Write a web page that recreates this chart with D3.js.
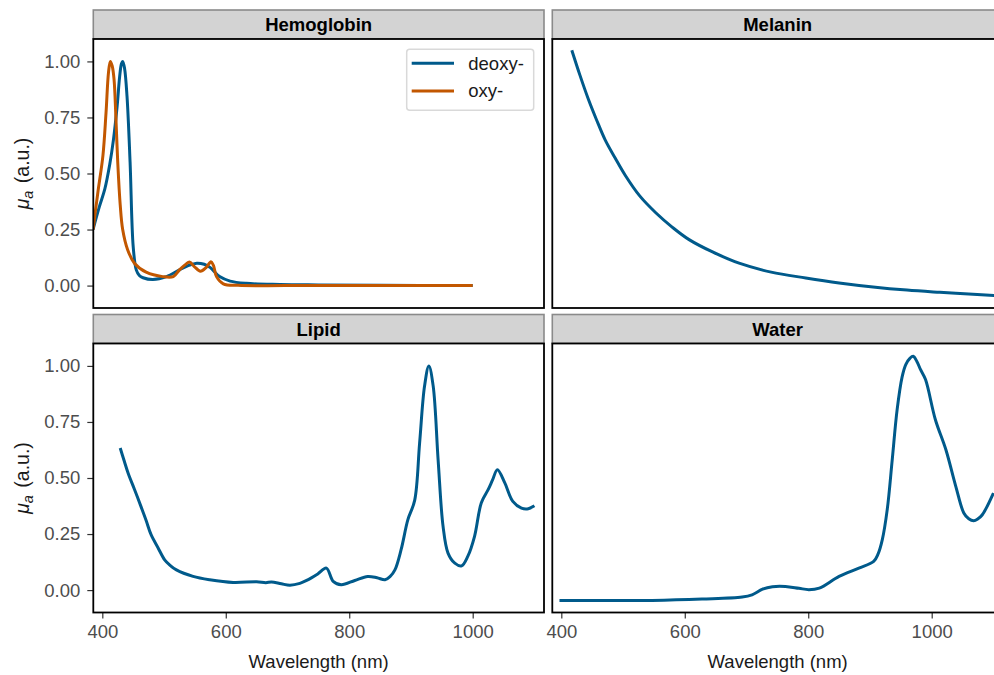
<!DOCTYPE html>
<html>
<head>
<meta charset="UTF-8">
<title>Absorption spectra</title>
<script src="https://d3js.org/d3.v7.min.js"></script>
<style>
  body { margin:0; background:#fff; }
  text { font-family: "Liberation Sans", Arial, Helvetica, sans-serif; }
</style>
</head>
<body>
<svg id="chart"></svg>
<script>
// spectra, [wavelength nm, mu_a normalised]
const deoxyHb = [[385,0.25],[395,0.35],[404,0.43],[412,0.54],[418,0.65],[424,0.80],[428,0.93],[431,0.99],[433,1.0],[436,0.97],[440,0.845],[445,0.55],[450,0.175],[455,0.07],[460,0.045],[466,0.035],[482,0.027],[504,0.04],[525,0.07],[540,0.09],[553,0.10],[565,0.095],[575,0.08],[590,0.04],[607,0.02],[633,0.01],[688,0.005],[750,0.003],[850,0.001],[1000,0.0]];
const oxyHb = [[385,0.25],[393,0.42],[401,0.58],[406,0.77],[410,0.95],[413,1.0],[416,0.98],[419,0.92],[422,0.75],[425,0.55],[429,0.36],[433,0.25],[441,0.16],[452,0.10],[471,0.06],[498,0.04],[515,0.04],[525,0.07],[533,0.09],[541,0.105],[549,0.085],[559,0.064],[568,0.08],[576,0.106],[580,0.09],[585,0.04],[596,0.008],[620,0.001],[700,0],[1000,0]];
const melanin = [[417,1.05],[430,0.94],[444,0.83],[457,0.74],[471,0.65],[487,0.57],[504,0.49],[527,0.40],[553,0.325],[580,0.26],[607,0.205],[645,0.15],[688,0.10],[740,0.06],[796,0.034],[850,0.012],[905,-0.006],[960,-0.02],[1013,-0.03],[1060,-0.038],[1110,-0.046]];
const lipid = [[429,0.634],[435,0.58],[442,0.52],[452,0.45],[463,0.37],[471,0.31],[479,0.247],[490,0.19],[501,0.135],[510,0.11],[520,0.09],[547,0.061],[574,0.046],[612,0.034],[650,0.037],[665,0.033],[674,0.036],[690,0.028],[704,0.022],[720,0.03],[731,0.043],[749,0.072],[763,0.098],[774,0.039],[787,0.024],[809,0.043],[830,0.061],[845,0.055],[858,0.046],[866,0.06],[874,0.09],[884,0.18],[895,0.314],[906,0.40],[914,0.656],[922,0.91],[929,1.0],[936,0.91],[944,0.58],[952,0.284],[960,0.165],[971,0.12],[982,0.108],[992,0.15],[1003,0.24],[1014,0.39],[1025,0.448],[1032,0.49],[1040,0.537],[1052,0.478],[1065,0.396],[1079,0.366],[1090,0.363],[1100,0.376]];
const water = [[397,-0.046],[450,-0.046],[547,-0.046],[628,-0.04],[693,-0.031],[709,-0.021],[726,0.004],[742,0.015],[763,0.016],[785,0.008],[801,0.002],[818,0.009],[850,0.061],[882,0.098],[906,0.128],[913,0.16],[920,0.225],[928,0.36],[936,0.58],[944,0.805],[952,0.95],[958,1.006],[965,1.035],[970,1.043],[976,1.02],[982,0.983],[990,0.939],[1006,0.76],[1023,0.626],[1039,0.463],[1052,0.344],[1060,0.318],[1068,0.309],[1075,0.318],[1082,0.336],[1100,0.433]];

const xTicks = [400, 600, 800, 1000];
const yTicks = [0, 0.25, 0.5, 0.75, 1];
const blue = '#005a8b', orange = '#c25700';

const facets = [
  { name:'Hemoglobin', col:0, row:0, series:[{data:deoxyHb, color:blue, label:'deoxy-'},{data:oxyHb, color:orange, label:'oxy-'}] },
  { name:'Melanin',    col:1, row:0, series:[{data:melanin, color:blue}] },
  { name:'Lipid',      col:0, row:1, series:[{data:lipid, color:blue}] },
  { name:'Water',      col:1, row:1, series:[{data:water, color:blue}] }
];

const W = 994, H = 675;
const colX = [93.3, 552.3], panelW = 450.7;
const stripTop = [10, 314.5], stripH = 29;
const panelH = 269;

const svg = d3.select('#chart').attr('width', W).attr('height', H);

const x = d3.scaleLinear().domain([385.4, 1115.5]).range([0, panelW]);
const y = d3.scaleLinear().domain([-0.1, 1.1]).range([panelH, 0]);

const line = d3.line()
  .x(d => x(d[0]))
  .y(d => y(d[1]))
  .curve(d3.curveCatmullRom.alpha(0.5));

facets.forEach((f, i) => {
  const px = colX[f.col], sy = stripTop[f.row], py = sy + stripH;

  // strip
  const strip = svg.append('g').attr('transform', `translate(${px},${sy})`);
  strip.append('rect').attr('width', panelW).attr('height', stripH)
    .attr('fill', '#d3d3d3').attr('stroke', '#8a8a8a').attr('stroke-width', 1.6);
  strip.append('text').attr('x', panelW/2).attr('y', stripH/2).attr('dy', '0.36em')
    .attr('text-anchor', 'middle').attr('font-size', 18.5).attr('font-weight', 'bold')
    .attr('fill', '#000').text(f.name);

  const g = svg.append('g').attr('transform', `translate(${px},${py})`);
  g.append('clipPath').attr('id', 'clip'+i)
    .append('rect').attr('width', panelW).attr('height', panelH);
  g.append('rect').attr('width', panelW).attr('height', panelH).attr('fill', '#fff');

  g.append('g').attr('clip-path', `url(#clip${i})`)
    .selectAll('path').data(f.series).join('path')
    .attr('d', s => line(s.data))
    .attr('fill', 'none').attr('stroke', s => s.color)
    .attr('stroke-width', 3).attr('stroke-linejoin', 'round');

  // y axis on left column only
  if (f.col === 0) {
    const ya = g.append('g').call(d3.axisLeft(y).tickValues(yTicks)
      .tickFormat(d3.format('.2f')).tickSize(6).tickPadding(7));
    ya.select('.domain').remove();
    ya.selectAll('line').attr('stroke', '#333').attr('stroke-width', 1.2);
    ya.selectAll('text').attr('font-size', 18.5).attr('fill', '#4d4d4d')
      .attr('font-family', '"Liberation Sans", Arial, sans-serif');

    const yt = svg.append('text')
      .attr('transform', `translate(29,${py + panelH/2}) rotate(-90)`)
      .attr('text-anchor', 'middle').attr('font-size', 19.5).attr('fill', '#1a1a1a');
    yt.append('tspan').attr('font-style', 'italic').text('μ');
    yt.append('tspan').attr('font-style', 'italic').attr('font-size', 14.5)
      .attr('baseline-shift', '-28%').text('a');
    yt.append('tspan').attr('dx', 2).text(' (a.u.)');
  }

  // x axis on bottom row
  if (f.row === 1) {
    const xa = g.append('g').attr('transform', `translate(0,${panelH})`)
      .call(d3.axisBottom(x).tickValues(xTicks).tickFormat(d3.format('d'))
        .tickSize(6).tickPadding(6));
    xa.select('.domain').remove();
    xa.selectAll('line').attr('stroke', '#333').attr('stroke-width', 1.2);
    xa.selectAll('text').attr('font-size', 18.5).attr('fill', '#4d4d4d')
      .attr('font-family', '"Liberation Sans", Arial, sans-serif');

    svg.append('text').attr('x', px + panelW/2).attr('y', 668)
      .attr('text-anchor', 'middle').attr('font-size', 18.5).attr('fill', '#1a1a1a')
      .text('Wavelength (nm)');
  }

  // panel border
  g.append('rect').attr('width', panelW).attr('height', panelH)
    .attr('fill', 'none').attr('stroke', '#000').attr('stroke-width', 1.8);

  // legend for hemoglobin
  if (f.series.length > 1) {
    const lg = g.append('g').attr('transform', `translate(${406.7 - px},${49.3 - py})`);
    lg.append('rect').attr('width', 127).attr('height', 61).attr('rx', 3)
      .attr('fill', '#fff').attr('stroke', '#d9d9d9').attr('stroke-width', 1.5);
    const items = lg.selectAll('g.item').data(f.series).join('g')
      .attr('class', 'item')
      .attr('transform', (s, k) => `translate(0,${14 + k*27.7})`);
    items.append('line').attr('x1', 5).attr('x2', 47.3)
      .attr('stroke', s => s.color).attr('stroke-width', 3);
    items.append('text').attr('x', 61.6).attr('dy', '0.35em')
      .attr('font-size', 18.5).attr('fill', '#1a1a1a').text(s => s.label);
  }
});
</script>
</body>
</html>
